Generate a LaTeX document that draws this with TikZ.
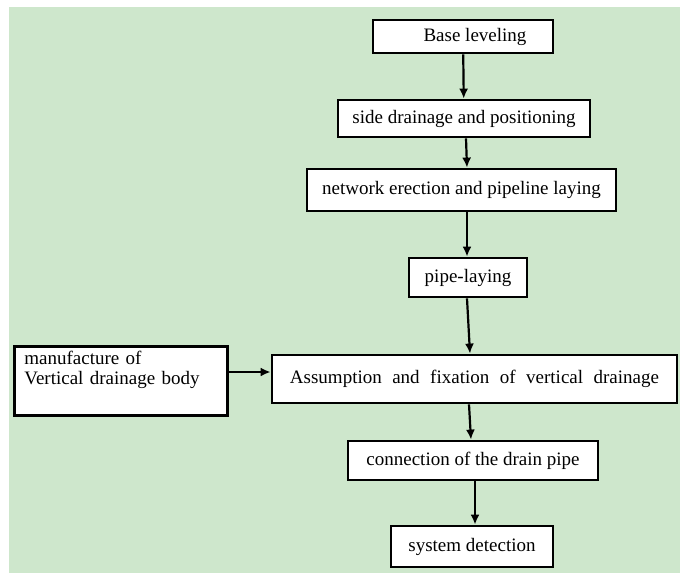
\documentclass[tikz,border=0pt]{standalone}
\usepackage{fontspec}
\setmainfont{Liberation Serif}
\usetikzlibrary{arrows.meta}
\definecolor{bggreen}{RGB}{206,231,204}
\tikzset{
  stepbox/.style={draw, line width=2.8pt, fill=white, inner sep=0pt,
    font=\fontsize{19}{20}\selectfont},
  flow/.style={-{Latex[length=10pt,width=9pt]}, line width=2.2pt},
}
\begin{document}
\begin{tikzpicture}[x=1pt,y=-1pt]
    \useasboundingbox (0,0) rectangle (680,574);
    \fill[white] (0,0) rectangle (680,574);
    \fill[bggreen] (9,7) rectangle (680,573);

    % main chain of steps
    \node[stepbox, minimum width=180pt, minimum height=33pt] (base) at (463,36.5)
      {\hspace*{24pt}Base leveling};
    \node[stepbox, minimum width=252pt, minimum height=37pt] (side) at (464,118.5)
      {side drainage and positioning};
    \node[stepbox, minimum width=309pt, minimum height=42pt] (net) at (461.5,190)
      {network erection and pipeline laying};
    \node[stepbox, minimum width=118pt, minimum height=39pt] (pipe) at (468,277.5)
      {pipe-laying};
    \node[stepbox, minimum width=405pt, minimum height=48pt] (assume) at (474.5,379)
      {\spaceskip=10.5pt Assumption and fixation of vertical drainage};
    \node[stepbox, minimum width=250pt, minimum height=39pt] (conn) at (473,460.5)
      {connection of the drain pipe};
    \node[stepbox, minimum width=162pt, minimum height=41pt] (detect) at (472,546.5)
      {system detection};

    % side input
    \node[stepbox, anchor=north west, inner xsep=10pt, inner ysep=5pt,
      text width=193pt, align=left, text height=13pt, text depth=46pt]
      (manuf) at (13,345) {manufacture of\\Vertical drainage body};
    \coordinate (feed) at ([yshift=7pt]assume.west);

    \draw[flow] (base) -- (side);
    \draw[flow] ([xshift=2pt]side.south) -- ([xshift=5.5pt]net.north);
    \draw[flow] ([xshift=5.5pt]net.south) -- ([xshift=-1pt]pipe.north);
    \draw[flow] ([xshift=-1pt]pipe.south) -- ([xshift=-4.5pt]assume.north);
    \draw[flow] ([xshift=-5.5pt]assume.south) -- ([xshift=-2pt]conn.north);
    \draw[flow] ([xshift=2pt]conn.south) -- ([xshift=3pt]detect.north);
    \draw[flow] (manuf.east |- feed) -- (feed);
\end{tikzpicture}
\end{document}
